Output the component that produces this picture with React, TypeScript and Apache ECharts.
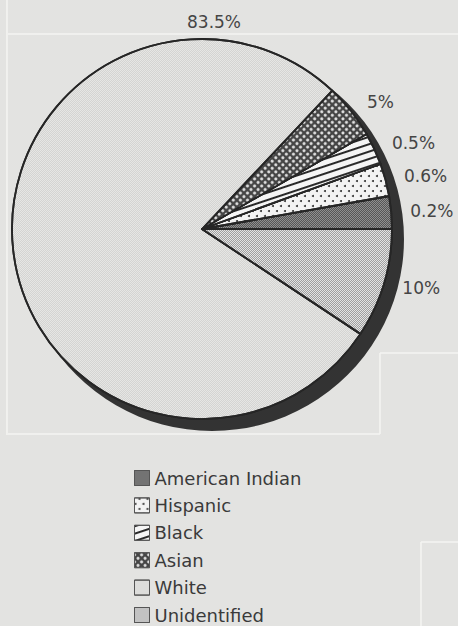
import React, { useEffect, useRef } from 'react';
import * as echarts from 'echarts';

const categories = ['American Indian', 'Hispanic', 'Black', 'Asian', 'White', 'Unidentified'];
const shares = [0.2, 0.6, 0.5, 5, 83.5, 10];
const shareLabels = ['0.2%', '0.6%', '0.5%', '5%', '83.5%', '10%'];

const W = 458;
const H = 626;
const CX = 202;
const CY = 229;
const R = 190;
const BG = '#e3e3e1';
const FONT = 'DejaVu Sans';

const checker = (c: string) => ({
  symbol: 'rect',
  symbolSize: 1,
  color: c,
  dashArrayX: [[1, 1], [0, 1, 1, 0]],
  dashArrayY: [1, 0],
});

const styles: any[] = [
  { color: '#8f8f8f', decal: checker('rgba(30,30,30,0.5)') },
  {
    color: '#f3f3f3',
    decal: {
      symbol: 'circle',
      symbolSize: 1,
      color: '#333',
      dashArrayX: [[2, 6], [0, 4, 2, 2]],
      dashArrayY: [2, 3],
    },
  },
  {
    color: '#f5f5f5',
    decal: {
      symbol: 'rect',
      symbolSize: 1,
      color: '#2a2a2a',
      dashArrayX: [1, 0],
      dashArrayY: [1.6, 4.6],
      rotation: -0.32,
    },
  },
  {
    color: '#454545',
    decal: {
      symbol: 'circle',
      symbolSize: 1,
      color: '#e8e8e8',
      dashArrayX: [3, 2],
      dashArrayY: [3, 2],
      rotation: Math.PI / 4,
    },
  },
  { color: '#e6e6e4', decal: checker('rgba(0,0,0,0.08)') },
  { color: '#e4e4e4', decal: checker('rgba(0,0,0,0.3)') },
];

const faint = { stroke: '#f4f4f2', lineWidth: 1.6 };
const edgeLines = [
  [7, 0, 7, 435],
  [8, 34, W, 34],
  [8, 434, 380, 434],
  [380, 353, 380, 434],
  [380, 353, W, 353],
  [421, 542, 421, H],
  [421, 542, W, 542],
];

export default function App() {
  const ref = useRef<HTMLDivElement>(null);
  useEffect(() => {
    if (!ref.current) return;
    const chart = echarts.init(ref.current, null, { renderer: 'svg' });
    chart.setOption({
      animation: false,
      backgroundColor: BG,
      graphic: edgeLines.map(([x1, y1, x2, y2]) => ({
        type: 'line',
        silent: true,
        z: 0,
        shape: { x1, y1, x2, y2 },
        style: faint,
      })),
      legend: {
        orient: 'vertical',
        left: 134,
        top: 469,
        height: 200,
        data: categories,
        icon: 'rect',
        itemWidth: 15,
        itemHeight: 15,
        itemGap: 9.4,
        padding: 0,
        selectedMode: false,
        itemStyle: { borderColor: '#555', borderWidth: 1 },
        textStyle: {
          fontFamily: FONT,
          fontSize: 18,
          lineHeight: 18,
          color: '#3a3a3a',
        },
      },
      series: [
        {
          type: 'pie',
          silent: true,
          center: [CX + 10, CY + 10],
          radius: R + 2,
          z: 1,
          label: { show: false },
          labelLine: { show: false },
          itemStyle: { color: '#333333', borderWidth: 0 },
          data: [{ value: 1, name: '_edge' }],
        },
        {
          type: 'pie',
          center: [CX, CY],
          radius: R,
          z: 2,
          clockwise: false,
          startAngle: 0,
          minAngle: 10,
          silent: true,
          itemStyle: { borderColor: '#262626', borderWidth: 1.8 },
          label: {
            show: true,
            position: 'outside',
            formatter: (p: any) => shareLabels[p.dataIndex],
            fontFamily: FONT,
            fontSize: 17,
            color: '#454545',
            overflow: 'none',
            bleedMargin: 0,
            distanceToLabelLine: 5,
          },
          labelLine: { show: false, length: 14, length2: 0 },
          labelLayout: (params: any) => {
            if (params.dataIndex === 4) {
              return { x: CX + 12, y: CY - R - 17, align: 'center', verticalAlign: 'middle' };
            }
            return {};
          },
          data: categories.map((name, i) => ({
            name,
            value: shares[i],
            itemStyle: styles[i],
          })),
        },
      ],
    });
    return () => chart.dispose();
  }, []);
  return (
    <div
      ref={ref}
      style={{ position: 'absolute', left: 0, top: 0, width: W, height: H, background: BG }}
    />
  );
}
